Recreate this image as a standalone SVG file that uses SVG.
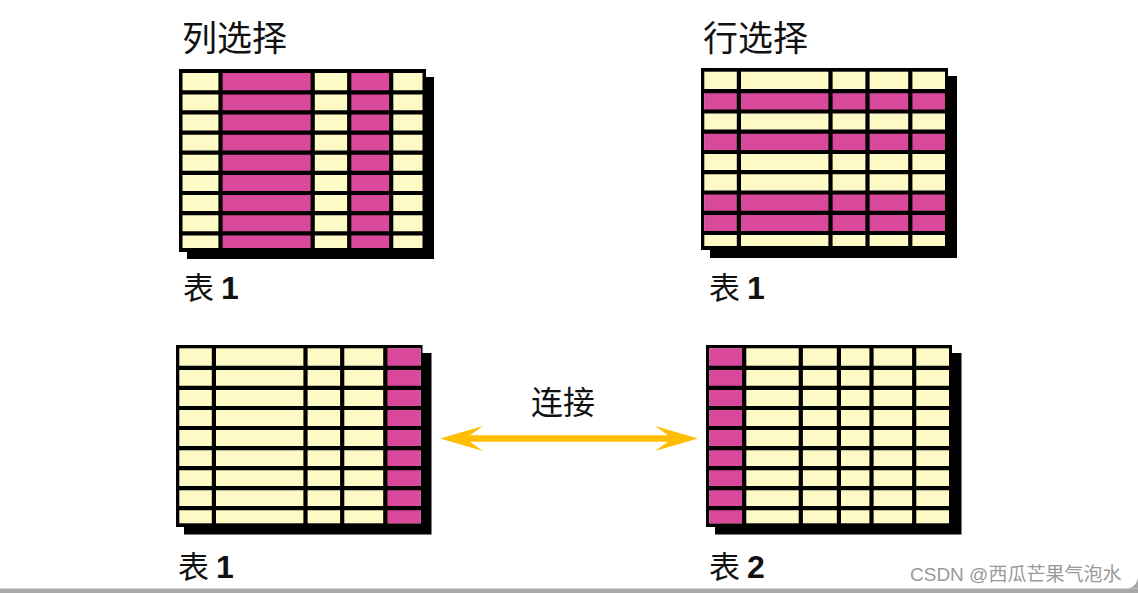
<svg xmlns="http://www.w3.org/2000/svg" width="1138" height="593" viewBox="0 0 1138 593">
<style>
.bg{fill:#ffffff}
.frm{fill:#000000}
.y{fill:#FEFAC6}
.p{fill:#D8489B}
.g{stroke:#000000;stroke-width:4.2;fill:none}
.title{font-family:"Noto Sans CJK SC","Noto Sans",sans-serif;font-size:35px;fill:#111111}
.lbl{font-family:"Noto Sans CJK SC","Liberation Sans",sans-serif;font-size:31px;fill:#111111}
.cn{font-family:"Noto Sans CJK SC","Liberation Sans",sans-serif;font-size:32px;fill:#111111}
.num{font-family:"Liberation Sans",Arial,sans-serif;font-weight:bold;font-size:32px}
.wm{font-family:"Liberation Sans","Noto Sans CJK SC",sans-serif;font-size:19px;fill:#9a9a9a}
</style>
<rect class="bg" x="0" y="0" width="1138" height="593"/>

<g id="table-col-select">
<text class="title" x="182" y="51">列选择</text>
<rect class="frm" x="187" y="77" width="247" height="182"/>
<rect class="frm" x="179" y="69" width="247" height="183"/>
<rect class="y" x="182.5" y="73" width="240" height="175"/>
<rect class="p" x="220.5" y="73" width="92.2" height="175"/>
<rect class="p" x="349.2" y="73" width="42" height="175"/>
<path class="g" d="M220.5,70V250M312.7,70V250M349.2,70V250M391.2,70V250M180,92.3H425M180,112.4H425M180,132.6H425M180,152.7H425M180,172.9H425M180,193H425M180,213.1H425M180,233.3H425"/>
<text class="lbl" x="183" y="299">表 <tspan class="num">1</tspan></text>
</g>

<g id="table-row-select">
<text class="title" x="703" y="51">行选择</text>
<rect class="frm" x="710" y="76" width="247" height="182"/>
<rect class="frm" x="701" y="68" width="247" height="182"/>
<rect class="y" x="704.3" y="71.7" width="240.7" height="174.3"/>
<rect class="p" x="704.3" y="91.2" width="240.7" height="20.3"/>
<rect class="p" x="704.3" y="131.7" width="240.7" height="20.3"/>
<rect class="p" x="704.3" y="192.5" width="240.7" height="40.5"/>
<path class="g" d="M738.9,69V248M830.5,69V248M867.5,69V248M910.3,69V248M702,91.2H947M702,111.5H947M702,131.7H947M702,152H947M702,172.2H947M702,192.5H947M702,212.8H947M702,233H947"/>
<text class="lbl" x="709" y="299">表 <tspan class="num">1</tspan></text>
</g>

<g id="table-1">
<rect class="frm" x="184" y="353" width="247.5" height="181.5"/>
<rect class="frm" x="176" y="345" width="246.5" height="182"/>
<rect class="y" x="179.3" y="348.3" width="241.4" height="175"/>
<rect class="p" x="385.3" y="348.3" width="35.4" height="175"/>
<path class="g" d="M213.9,346V525M305.5,346V525M342.2,346V525M385.3,346V525M177,367.9H421M177,387.9H421M177,408H421M177,428H421M177,448.1H421M177,468.1H421M177,488.1H421M177,508.2H421"/>
<text class="lbl" x="178" y="578">表 <tspan class="num">1</tspan></text>
</g>

<g id="table-2">
<rect class="frm" x="715" y="353" width="246.5" height="181.5"/>
<rect class="frm" x="706" y="345" width="246" height="182"/>
<rect class="y" x="709.3" y="348.3" width="239.7" height="175"/>
<rect class="p" x="709.3" y="348.3" width="34.9" height="175"/>
<path class="g" d="M744.2,346V525M800.8,346V525M838.9,346V525M871.5,346V525M914.2,346V525M707,367.9H951M707,387.9H951M707,408H951M707,428H951M707,448.1H951M707,468.1H951M707,488.1H951M707,508.2H951"/>
<text class="lbl" x="709" y="578">表 <tspan class="num">2</tspan></text>
</g>

<g id="connectors">
<text class="cn" x="531" y="414">连接</text>
<path fill="#FFBF00" d="M440,438.5L483,426L470,435.3H668L655,426L698,438.5L655,451L668,441.7H470L483,451Z"/>
</g>

<g id="watermark">
<text class="wm" x="910" y="581">CSDN @西瓜芒果气泡水</text>
<rect x="0" y="588.5" width="1138" height="4.5" fill="#a8a8a8"/>
<path d="M1128,588.5Q1136,587 1138,578V588.5Z" fill="#a8a8a8"/>
</g>
</svg>
